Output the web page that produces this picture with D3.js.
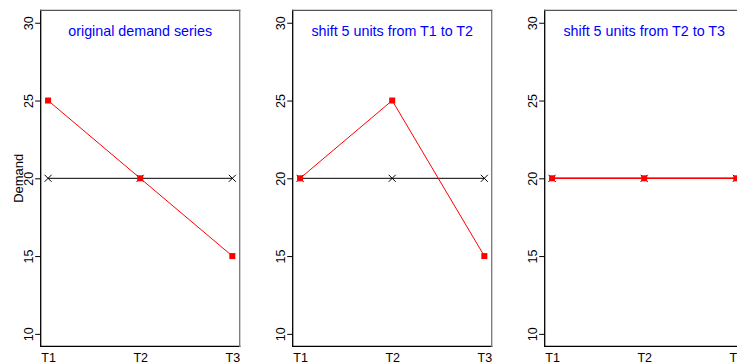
<!DOCTYPE html>
<html>
<head>
<meta charset="utf-8">
<script src="https://cdn.jsdelivr.net/npm/d3@7"></script>
<style>
  body { margin: 0; background: #fff; }
  svg { display: block; font-family: "Liberation Sans", Arial, Helvetica, sans-serif; }
</style>
</head>
<body>
<svg id="chart"></svg>
<script>
// data
var periods = ["T1", "T2", "T3"];
var baseline = [20, 20, 20];
var titles = ["original demand series", "shift 5 units from T1 to T2", "shift 5 units from T2 to T3"];
var demand1 = [25, 20, 15];
var demand2 = [20, 25, 15];
var demand3 = [20, 20, 20];
var yTicks = [10, 15, 20, 25, 30];

var series = [demand1, demand2, demand3];

var width = 737, height = 363;
var panelLefts = [40.7, 292.7, 544.7];
var panelW = 199;
var plotTop = 10.3, plotBottom = 346.3;

var svg = d3.select("#chart").attr("width", width).attr("height", height);

var y = d3.scaleLinear().domain([9.2, 30.8]).range([plotBottom, plotTop]);

// y label only on first panel
svg.append("text")
  .attr("transform", "translate(23," + y(20) + ") rotate(-90)")
  .attr("text-anchor", "middle")
  .style("font-size", "13px")
  .text("Demand");

series.forEach(function (vals, p) {
  var left = panelLefts[p];
  var right = left + panelW;
  var x = d3.scaleLinear().domain([0.92, 3.08]).range([left, right]);
  var g = svg.append("g");

  // left axis
  var ya = g.append("g")
    .attr("transform", "translate(" + left + ",0)")
    .call(d3.axisLeft(y).tickValues(yTicks).tickSize(5.5).tickFormat(d3.format("d")));
  ya.select(".domain").remove();
  ya.selectAll("line").attr("stroke", "#000");
  ya.selectAll("text")
    .attr("transform", "rotate(-90)")
    .attr("x", 0)
    .attr("y", -7.5)
    .attr("dy", 0)
    .attr("text-anchor", "middle")
    .attr("fill", "#000")
    .style("font-size", "12.5px")
    .style("font-family", "'Liberation Sans', Arial, sans-serif");

  // bottom labels (no ticks)
  var xa = g.append("g")
    .attr("transform", "translate(0," + plotBottom + ")")
    .call(d3.axisBottom(x).tickValues([1, 2, 3]).tickSize(0).tickPadding(6.5)
      .tickFormat(function (d) { return periods[d - 1]; }));
  xa.select(".domain").remove();
  xa.selectAll("text")
    .attr("fill", "#000")
    .style("font-size", "12.5px")
    .style("font-family", "'Liberation Sans', Arial, sans-serif");

  // box: left/bottom dark, top/right greyer
  var edges = [
    [left, plotTop, left, plotBottom, "#000"],
    [left, plotBottom, right, plotBottom, "#000"],
    [left, plotTop, right, plotTop, "#555"],
    [right, plotTop, right, plotBottom, "#777"]
  ];
  g.selectAll(".edge").data(edges).enter().append("line")
    .attr("x1", function (d) { return d[0]; })
    .attr("y1", function (d) { return d[1]; })
    .attr("x2", function (d) { return d[2]; })
    .attr("y2", function (d) { return d[3]; })
    .attr("stroke", function (d) { return d[4]; })
    .attr("stroke-width", 1.3)
    .attr("stroke-linecap", "square");

  // title
  g.append("text")
    .attr("x", left + panelW / 2)
    .attr("y", 36)
    .attr("text-anchor", "middle")
    .attr("fill", "#0000ff")
    .style("font-size", "14.3px")
    .text(titles[p]);

  var line = d3.line()
    .x(function (d, i) { return x(i + 1); })
    .y(function (d) { return y(d); });

  // baseline series
  g.append("path").datum(baseline)
    .attr("d", line).attr("fill", "none").attr("stroke", "#000").attr("stroke-width", 1);
  g.selectAll(".xm").data(baseline).enter().append("path")
    .attr("transform", function (d, i) { return "translate(" + x(i + 1) + "," + y(d) + ")"; })
    .attr("d", "M-3.5,-3.5L3.5,3.5M-3.5,3.5L3.5,-3.5")
    .attr("stroke", "#000").attr("stroke-width", 1);

  // demand series
  g.append("path").datum(vals)
    .attr("d", line).attr("fill", "none").attr("stroke", "#ff0000").attr("stroke-width", p === 2 ? 1.6 : 1);
  g.selectAll(".sq").data(vals).enter().append("rect")
    .attr("x", function (d, i) { return x(i + 1) - 3; })
    .attr("y", function (d) { return y(d) - 3; })
    .attr("width", 6).attr("height", 6)
    .attr("fill", "#ff0000");
});
</script>
</body>
</html>
